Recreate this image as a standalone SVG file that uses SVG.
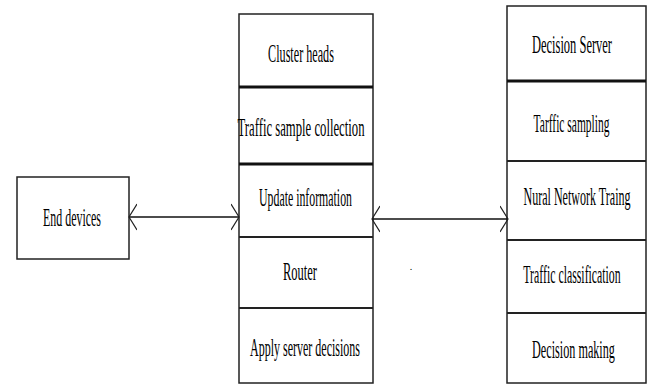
<svg xmlns="http://www.w3.org/2000/svg" width="654" height="385" viewBox="0 0 654 385">
<style>
.box{fill:#fff;stroke:#222;stroke-width:1.5}
.div{stroke:#222;stroke-width:2}
.thick{stroke:#111;stroke-width:3}
text{font-family:"Liberation Serif","Times New Roman",serif;font-size:26px;fill:#000;text-anchor:middle}
.conn{stroke:#111;stroke-width:1.5;fill:none;marker-start:url(#ah);marker-end:url(#ah)}
</style>
<defs>
<marker id="ah" markerUnits="userSpaceOnUse" viewBox="0 0 9 28" refX="8" refY="14" markerWidth="9" markerHeight="28" orient="auto-start-reverse">
<path d="M0,1 L8,14 L0,27" fill="none" stroke="#222" stroke-width="1.2"/>
</marker>
</defs>
<rect width="654" height="385" fill="#fff"/>
<g id="end-devices">
<rect class="box" x="17" y="177" width="112" height="82"/>
<text transform="translate(72,226) scale(0.459,1)">End devices</text>
</g>
<g id="cluster-heads">
<rect class="box" x="239" y="14" width="134" height="369"/>
<line class="thick" x1="239" y1="87" x2="373" y2="87"/>
<line class="thick" x1="239" y1="164" x2="373" y2="164"/>
<line class="div" x1="239" y1="237" x2="373" y2="237"/>
<line class="div" x1="239" y1="308" x2="373" y2="308"/>
<text transform="translate(301,62) scale(0.468,1)">Cluster heads</text>
<text transform="translate(301,136) scale(0.489,1)">Traffic sample collection</text>
<text transform="translate(305.5,206) scale(0.455,1)">Update information</text>
<text transform="translate(300,280) scale(0.481,1)">Router</text>
<text transform="translate(305,356) scale(0.462,1)">Apply server decisions</text>
</g>
<g id="decision-server">
<rect class="box" x="507" y="6" width="139" height="377"/>
<line class="thick" x1="507" y1="81" x2="646" y2="81"/>
<line class="div" x1="507" y1="161" x2="646" y2="161"/>
<line class="div" x1="507" y1="240" x2="646" y2="240"/>
<line class="div" x1="507" y1="313" x2="646" y2="313"/>
<text transform="translate(572,53) scale(0.480,1)">Decision Server</text>
<text transform="translate(571.5,132) scale(0.442,1)">Tarffic sampling</text>
<text transform="translate(577,205) scale(0.464,1)">Nural Network Traing</text>
<text transform="translate(572,283) scale(0.454,1)">Traffic classification</text>
<text transform="translate(573.5,358) scale(0.469,1)">Decision making</text>
</g>
<g id="connectors">
<line class="conn" x1="129" y1="217" x2="239" y2="217"/>
<line class="conn" x1="372" y1="219" x2="508" y2="219"/>
</g>
<text x="411" y="270" style="font-size:10px">.</text>
</svg>
